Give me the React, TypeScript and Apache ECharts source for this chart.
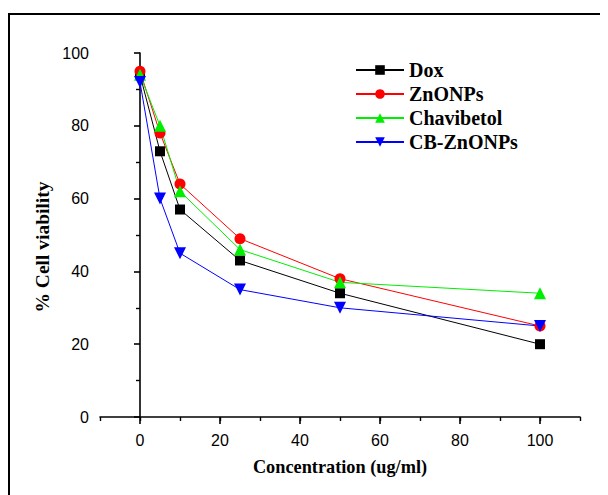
import React, { useEffect, useRef } from "react";
import * as echarts from "echarts";

const concentrations = [0, 5, 10, 25, 50, 100];
const dox = [94, 73, 57, 43, 34, 20];
const znonps = [95, 78, 64, 49, 38, 25];
const chavibetol = [94, 80, 62, 46, 37, 34];
const cbZnonps = [92, 60, 45, 35, 30, 25];
const xTickLabels = [0, 20, 40, 60, 80, 100];

const seriesDefs = [
  { name: "Dox", data: dox, color: "#000000", symbol: "rect", rotate: 0, size: 10 },
  { name: "ZnONPs", data: znonps, color: "#ff0000", symbol: "circle", rotate: 0, size: 11 },
  { name: "Chavibetol", data: chavibetol, color: "#00ee00", symbol: "triangle", rotate: 0, size: 12 },
  { name: "CB-ZnONPs", data: cbZnonps, color: "#0000ff", symbol: "triangle", rotate: 180, size: 12 },
];

export default function App() {
  const ref = useRef<HTMLDivElement>(null);
  useEffect(() => {
    if (!ref.current) return;
    const chart = echarts.init(ref.current, null, { renderer: "svg" });
    const serif = "'Liberation Serif', 'Times New Roman', serif";
    const sans = "'Liberation Sans', Arial, sans-serif";
    chart.setOption({
      animation: false,
      backgroundColor: "#ffffff",
      grid: { left: 100, right: 28, top: 53, bottom: 78 },
      legend: {
        orient: "vertical",
        left: 355,
        top: 60,
        padding: 0,
        itemWidth: 48,
        itemHeight: 12,
        itemGap: 4,
        textStyle: { fontFamily: serif, fontWeight: "bold", fontSize: 20, lineHeight: 20, color: "#000" },
        data: seriesDefs.map((s) => s.name),
      },
      graphic: [
        {
          type: "text",
          x: 42,
          y: 247,
          rotation: Math.PI / 2,
          style: {
            text: "% Cell viability",
            fontFamily: serif,
            fontWeight: "bold",
            fontSize: 19.5,
            fill: "#000",
            align: "center",
            verticalAlign: "middle",
          },
        },
      ],
      xAxis: [
        {
          type: "value",
          min: -10,
          max: 110,
          position: "bottom",
          name: "Concentration (ug/ml)",
          nameLocation: "middle",
          nameGap: 41,
          nameTextStyle: { fontFamily: serif, fontWeight: "bold", fontSize: 18.3, color: "#000" },
          axisLine: { show: true, lineStyle: { color: "#000", width: 1.6 } },
          axisTick: { show: true, customValues: xTickLabels, length: 7, lineStyle: { color: "#000", width: 1.6 } },
          axisLabel: { customValues: xTickLabels, fontFamily: sans, fontSize: 16, color: "#000", margin: 15 },
          splitLine: { show: false },
        },
        {
          type: "value",
          min: -10,
          max: 110,
          interval: 10,
          position: "bottom",
          axisLine: { show: false },
          axisTick: { show: true, length: 4, lineStyle: { color: "#000", width: 1.4 } },
          axisLabel: { show: false },
          splitLine: { show: false },
        },
      ],
      yAxis: {
        type: "value",
        min: 0,
        max: 100,
        interval: 20,
        axisLine: { show: true, lineStyle: { color: "#000", width: 1.6 } },
        axisTick: { show: true, length: 6, lineStyle: { color: "#000", width: 1.6 } },
        minorTick: { show: true, splitNumber: 2, length: 4, lineStyle: { color: "#000", width: 1.4 } },
        axisLabel: { fontFamily: sans, fontSize: 16, color: "#000", margin: 11 },
        splitLine: { show: false },
      },
      series: seriesDefs.map((s) => ({
        name: s.name,
        type: "line",
        xAxisIndex: 0,
        data: concentrations.map((c, i) => [c, s.data[i]]),
        symbol: s.symbol,
        symbolSize: s.size,
        symbolRotate: s.rotate,
        itemStyle: { color: s.color },
        lineStyle: { color: s.color, width: 1 },
      })),
    });
    return () => chart.dispose();
  }, []);
  return (
    <div style={{ position: "relative", width: 608, height: 495 }}>
      <div
        style={{
          position: "absolute",
          left: 0,
          top: 5,
          width: 620,
          height: 520,
          border: "2px solid #000",
          boxSizing: "border-box",
          pointerEvents: "none",
          zIndex: 2,
        }}
      />
      <div ref={ref} style={{ position: "absolute", left: -8, top: -8, width: 608, height: 495 }} />
    </div>
  );
}
